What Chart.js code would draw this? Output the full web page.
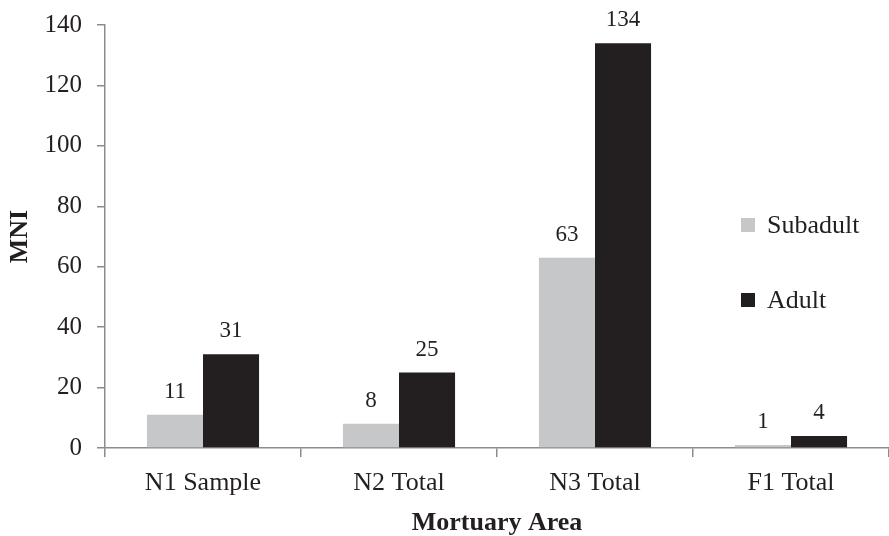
<!DOCTYPE html>
<html>
<head>
<meta charset="utf-8">
<script src="https://cdn.jsdelivr.net/npm/chart.js@4.4.1/dist/chart.umd.min.js"></script>
<style>
  html, body { margin: 0; padding: 0; background: #fff; }
  #wrap { width: 889px; height: 536px; position: relative; }
</style>
</head>
<body>
<div id="wrap"><canvas id="c" width="889" height="536"></canvas></div>
<script>
const areas = ['N1 Sample', 'N2 Total', 'N3 Total', 'F1 Total'];
const subadult = [11, 8, 63, 1];
const adult = [31, 25, 134, 4];
const yTicks = [0, 20, 40, 60, 80, 100, 120, 140];

const FONT = "'Liberation Serif', 'Times New Roman', serif";
const TEXT = '#231f20';
const AXIS = '#8c8c8c';

// value labels above each bar
const valueLabels = {
  id: 'valueLabels',
  afterDatasetsDraw(chart) {
    const ctx = chart.ctx;
    ctx.save();
    ctx.font = '23px ' + FONT;
    ctx.fillStyle = TEXT;
    ctx.textAlign = 'center';
    ctx.textBaseline = 'middle';
    chart.data.datasets.forEach((ds, i) => {
      chart.getDatasetMeta(i).data.forEach((bar, j) => {
        ctx.fillText(String(ds.data[j]), bar.x, bar.y - 23);
      });
    });
    ctx.restore();
  }
};

// vertical legend sitting inside the plot on the right
const sideLegend = {
  id: 'sideLegend',
  afterDraw(chart) {
    const ctx = chart.ctx;
    ctx.save();
    ctx.font = '26px ' + FONT;
    ctx.textBaseline = 'middle';
    ctx.textAlign = 'left';
    const rows = [225, 300];
    chart.data.datasets.forEach((ds, i) => {
      const y = rows[i];
      ctx.fillStyle = ds.backgroundColor;
      ctx.fillRect(741, y - 7, 14, 14);
      ctx.fillStyle = TEXT;
      ctx.fillText(ds.label, 767, y + 1);
    });
    ctx.restore();
  }
};

new Chart(document.getElementById('c'), {
  type: 'bar',
  data: {
    labels: areas,
    datasets: [
      { label: 'Subadult', data: subadult, backgroundColor: '#c6c7c9', categoryPercentage: 0.572, barPercentage: 1.0 },
      { label: 'Adult', data: adult, backgroundColor: '#231f20', categoryPercentage: 0.572, barPercentage: 1.0 }
    ]
  },
  options: {
    responsive: false,
    animation: false,
    layout: { padding: { top: 25, right: 0, bottom: 0, left: 0 } },
    plugins: { legend: { display: false }, tooltip: { enabled: false } },
    scales: {
      x: {
        grid: { display: true, drawOnChartArea: false, offset: true, color: AXIS, tickLength: 9, lineWidth: 1.5 },
        border: { display: true, color: AXIS, width: 1.5 },
        ticks: { color: TEXT, font: { family: FONT, size: 26 }, padding: 11, maxRotation: 0 },
        title: { display: true, text: 'Mortuary Area', color: TEXT, font: { family: FONT, size: 26, weight: 'bold' }, padding: { top: 0, bottom: -3 } },
        afterFit(scale) { scale.height = 88; scale.paddingLeft = 0; scale.paddingRight = 0; }
      },
      y: {
        min: 0,
        max: 140,
        afterBuildTicks(scale) { scale.ticks = yTicks.map(v => ({ value: v })); },
        grid: { display: true, drawOnChartArea: false, color: AXIS, tickLength: 8, lineWidth: 1.5 },
        border: { display: true, color: AXIS, width: 1.5 },
        ticks: { color: TEXT, font: { family: FONT, size: 25 }, padding: 15 },
        title: { display: true, text: 'MNI', color: TEXT, font: { family: FONT, size: 26, weight: 'bold' }, padding: { top: 5, bottom: 0 } },
        afterFit(scale) { scale.width = 105; scale.paddingTop = 0; scale.paddingBottom = 0; }
      }
    }
  },
  plugins: [valueLabels, sideLegend]
});
</script>
</body>
</html>
